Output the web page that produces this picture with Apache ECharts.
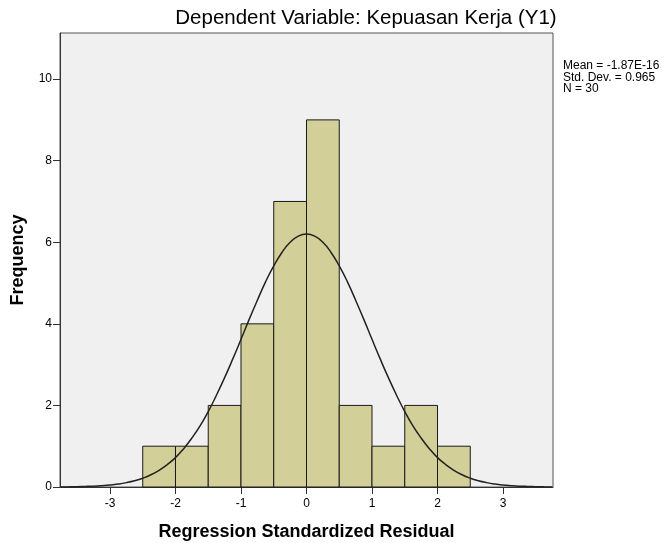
<!DOCTYPE html>
<html><head><meta charset="utf-8">
<script src="https://cdn.jsdelivr.net/npm/echarts@6/dist/echarts.min.js"></script>
<style>html,body{margin:0;padding:0;background:#fff}#c{width:669px;height:543px}</style>
</head><body><div id="c"></div>
<script>
// Histogram bins (start) and frequencies
var binStarts = [-2.5, -2.0, -1.5, -1.0, -0.5, 0.0, 0.5, 1.0, 1.5, 2.0];
var binWidth = 0.5;
var counts = [1, 1, 2, 4, 7, 9, 2, 1, 2, 1];
// Normal curve
var curveX = [-3.75,-3.625,-3.5,-3.375,-3.25,-3.125,-3.0,-2.875,-2.75,-2.625,-2.5,-2.375,-2.25,-2.125,-2.0,-1.875,-1.75,-1.625,-1.5,-1.375,-1.25,-1.125,-1.0,-0.875,-0.75,-0.625,-0.5,-0.375,-0.25,-0.125,0,0.125,0.25,0.375,0.5,0.625,0.75,0.875,1.0,1.125,1.25,1.375,1.5,1.625,1.75,1.875,2.0,2.125,2.25,2.375,2.5,2.625,2.75,2.875,3.0,3.125,3.25,3.375,3.5,3.625,3.75];
var curveY = [0.003,0.005,0.009,0.014,0.021,0.033,0.049,0.073,0.107,0.153,0.216,0.30,0.41,0.55,0.72,0.94,1.20,1.50,1.85,2.25,2.68,3.14,3.62,4.11,4.58,5.03,5.42,5.75,6.00,6.15,6.20,6.15,6.00,5.75,5.42,5.03,4.58,4.11,3.62,3.14,2.68,2.25,1.85,1.50,1.20,0.94,0.72,0.55,0.41,0.30,0.216,0.153,0.107,0.073,0.049,0.033,0.021,0.014,0.009,0.005,0.003];
var xTicks = [-3, -2, -1, 0, 1, 2, 3];
var yTicks = [0, 2, 4, 6, 8, 10];
var titleText = 'Dependent Variable: Kepuasan Kerja (Y1)';
var statsLines = ['Mean = -1.87E-16', 'Std. Dev. = 0.965', 'N = 30'];

var barData = binStarts.map(function (s, i) { return [s, s + binWidth, counts[i]]; });
var lineData = curveX.map(function (x, i) { return [x, curveY[i]]; });

var chart = echarts.init(document.getElementById('c'), null, {renderer: 'canvas'});
var font = 'Liberation Sans, Arial, sans-serif';
chart.setOption({
  backgroundColor: '#ffffff',
  animation: false,
  graphic: [{
    type: 'text', x: 366, y: 18,
    style: {text: titleText, font: '20.5px ' + font, fill: '#000', textAlign: 'center', textVerticalAlign: 'middle'}
  }, {
    type: 'text', x: 563, y: 60,
    style: {text: statsLines.join('\n'), font: '12px ' + font, fill: '#000', lineHeight: 11.5}
  }],
  grid: {left: 60, right: 116, top: 33, bottom: 56, outerBoundsMode: 'none', containLabel: false,
    show: true, backgroundColor: '#f0f0f0', borderColor: '#555', borderWidth: 1},
  xAxis: {
    type: 'value', min: -3.763, max: 3.763,
    name: 'Regression Standardized Residual', nameLocation: 'middle', nameGap: 36,
    nameTextStyle: {fontFamily: font, fontSize: 18, fontWeight: 'bold', color: '#000'},
    axisLine: {show: true, onZero: false, lineStyle: {color: '#333'}},
    axisTick: {show: true, length: 7, customValues: xTicks, lineStyle: {color: '#333'}},
    axisLabel: {customValues: xTicks, fontFamily: font, fontSize: 12, color: '#000', margin: 11},
    splitLine: {show: false}
  },
  yAxis: {
    type: 'value', min: 0, max: 11.13,
    name: 'Frequency', nameLocation: 'middle', nameGap: 33,
    nameTextStyle: {fontFamily: font, fontSize: 18, fontWeight: 'bold', color: '#000'},
    axisLine: {show: true, onZero: false, lineStyle: {color: '#333'}},
    axisTick: {show: true, length: 7, customValues: yTicks, lineStyle: {color: '#333'}},
    axisLabel: {customValues: yTicks, fontFamily: font, fontSize: 12, color: '#000', margin: 8},
    splitLine: {show: false}
  },
  series: [{
    type: 'custom',
    data: barData,
    encode: {x: [0, 1], y: 2},
    renderItem: function (params, api) {
      var p0 = api.coord([api.value(0), api.value(2)]);
      var p1 = api.coord([api.value(1), 0]);
      return {
        type: 'rect',
        shape: {x: p0[0], y: p0[1], width: p1[0] - p0[0], height: p1[1] - p0[1]},
        style: {fill: '#d3cf98', stroke: '#1a1a1a', lineWidth: 1}
      };
    },
    z: 2
  }, {
    type: 'line', data: lineData, smooth: true, showSymbol: false,
    lineStyle: {color: '#222', width: 1.5}, z: 3
  }]
});
</script></body></html>
